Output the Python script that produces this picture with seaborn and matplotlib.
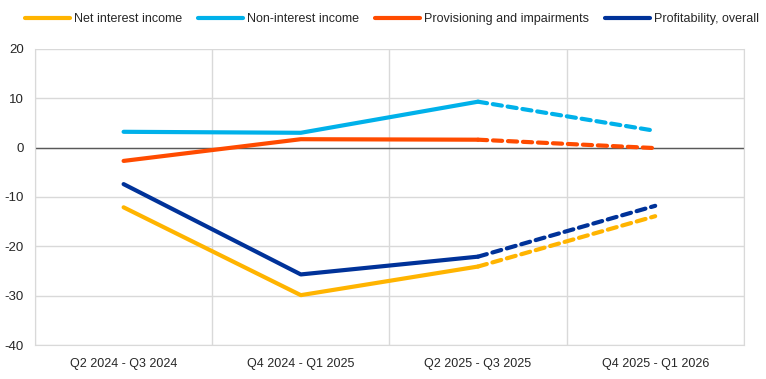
import matplotlib
matplotlib.use("Agg")
import matplotlib.pyplot as plt
import seaborn as sns
import pandas as pd

periods = ["Q2 2024 - Q3 2024", "Q4 2024 - Q1 2025", "Q2 2025 - Q3 2025", "Q4 2025 - Q1 2026"]
net_interest = [-12.1, -29.9, -24.1, -13.9]
non_interest = [3.2, 3.0, 9.3, 3.4]
provisioning = [-2.7, 1.7, 1.6, -0.1]
profitability = [-7.4, -25.7, -22.1, -11.8]

series = {
    "Net interest income": (net_interest, "#FFB400"),
    "Non-interest income": (non_interest, "#00B1EA"),
    "Provisioning and impairments": (provisioning, "#FF4B00"),
    "Profitability, overall": (profitability, "#003299"),
}

sns.set_style("white")
plt.rcParams["font.family"] = ["Liberation Sans", "DejaVu Sans"]
plt.rcParams["axes.unicode_minus"] = False

fig = plt.figure(figsize=(7.66, 3.79), dpi=100)
ax = fig.add_axes([0.0457, 0.0897, 0.9253, 0.7813])

for name, (vals, col) in series.items():
    df = pd.DataFrame({"x": range(len(periods)), "y": vals})
    # realised part solid, last step dashed
    sns.lineplot(data=df.iloc[:3], x="x", y="y", ax=ax, color=col, lw=3,
                 label=name, solid_capstyle="round")
    sns.lineplot(data=df.iloc[2:], x="x", y="y", ax=ax, color=col, lw=3,
                 linestyle=(0, (2.2, 1.4)), dash_capstyle="round")

ax.axhline(0, color="#595959", lw=1, zorder=1)
ax.set_xlim(-0.5, 3.5)
ax.set_ylim(-40, 20)
ax.set_yticks(range(-40, 21, 10))
ax.set_xticks([-0.5, 0.5, 1.5, 2.5, 3.5], minor=False)
ax.set_xticklabels([])
ax.set_xticks(range(4), minor=True)
ax.set_xticklabels(periods, minor=True)
ax.tick_params(axis="x", which="both", length=0, pad=9, labelsize=9)
ax.tick_params(axis="y", length=0, pad=8, labelsize=9.5)
ax.grid(True, which="major", color="#d9d9d9", lw=1)
ax.set_axisbelow(True)
ax.spines["top"].set_visible(False)
for s in ["left", "right", "bottom"]:
    ax.spines[s].set_color("#d9d9d9")
ax.set_xlabel("")
ax.set_ylabel("")

ax.get_legend().remove()
h, l = ax.get_legend_handles_labels()
fig.legend(h, l, loc="upper center", bbox_to_anchor=(0.512, 0.995), ncol=4,
           frameon=False, handlelength=3.6, handletextpad=0.3, columnspacing=1.3,
           fontsize=9)

fig.savefig("out.png", dpi=100)
